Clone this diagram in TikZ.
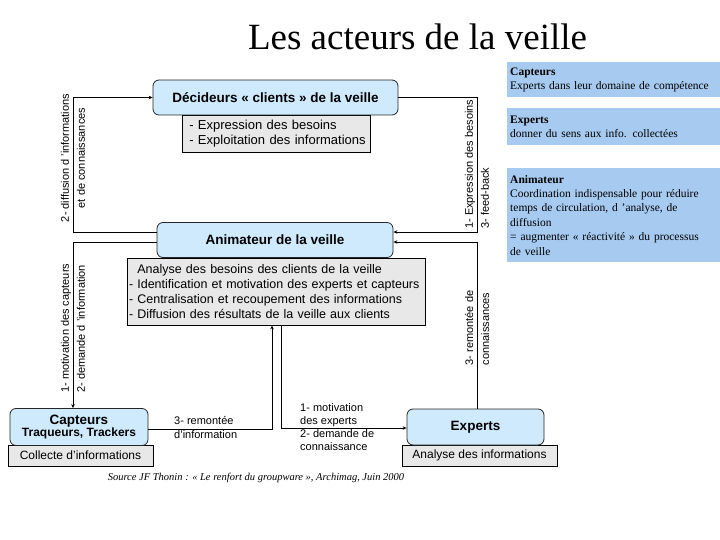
\documentclass[tikz,border=0pt]{standalone}
\usepackage{fontspec}
\setmainfont{Liberation Serif}
\setsansfont{Liberation Sans}
\usetikzlibrary{arrows.meta}
\definecolor{bleuclair}{RGB}{206,234,252}
\definecolor{grisclair}{RGB}{232,232,232}
\definecolor{bleupanneau}{RGB}{166,202,240}

\tikzset{
  acteur/.style={draw=black!85, fill=bleuclair, rounded corners=6pt, line width=0.8pt,
    font=\sffamily\bfseries\fontsize{13.5}{15}\selectfont, inner sep=2pt},
  tache/.style={draw=black, fill=grisclair, line width=0.8pt, inner sep=2pt,
    font=\sffamily\fontsize{12}{15}\selectfont},
  etiquette/.style={font=\sffamily\fontsize{11}{16}\selectfont, inner sep=0pt},
  panneau/.style={fill=bleupanneau, anchor=north west, align=left, inner sep=3pt,
    text width=207pt, font=\fontsize{11.5}{14.4}\selectfont},
  lien/.style={line width=0.8pt, -{Stealth[length=4pt,width=3.5pt]}}
}

\begin{document}
\begin{tikzpicture}[x=1pt, y=-1pt]
  \useasboundingbox (0,0) rectangle (720,540);
  % titre
  \node[anchor=base, font=\fontsize{37}{40}\selectfont] (titre) at (417.5,50) {Les acteurs de la veille};
  % panneaux de droite
  \node[panneau, minimum height=35] (pcap) at (507,62) {\textbf{Capteurs}\\Experts dans leur domaine de compétence};
  \node[panneau, minimum height=37] (pexp) at (507,108) {\textbf{Experts}\\donner du sens aux info. collectées};
  \node[panneau, minimum height=94] (panim) at (507,168) {\textbf{Animateur}\\Coordination indispensable pour réduire\\temps de circulation, d 'analyse, de\\diffusion\\= augmenter « réactivité » du processus\\de veille};
  % décideurs
  \node[tache, minimum width=188, minimum height=37, align=left, text width=182pt, font=\sffamily\fontsize{13}{15}\selectfont] (decT) at (276,133.5) {\ - Expression des besoins\\\ - Exploitation des informations};
  \node[acteur, minimum width=245, minimum height=35] (dec) at (275.5,97.5) {Décideurs « clients » de la veille};
  % animateur
  \node[tache, minimum width=298, minimum height=67, align=left, text width=294pt, font=\sffamily\fontsize{12.5}{15}\selectfont] (animT) at (276,291.5) {\hphantom{-}\ Analyse des besoins des clients de la veille\\- Identification et motivation des experts et capteurs\\- Centralisation et recoupement des informations\\- Diffusion des résultats de la veille aux clients};
  \node[acteur, minimum width=236, minimum height=35] (anim) at (275,240) {Animateur de la veille};
  % capteurs
  \node[tache, minimum width=145, minimum height=21] (capT) at (80.5,455.5) {Collecte d'informations};
  \node[acteur, minimum width=138, minimum height=37, align=center, font=\sffamily\bfseries\fontsize{13.5}{11}\selectfont] (cap) at (79,427) {Capteurs\\{\fontsize{12}{11}\selectfont Traqueurs, Trackers}};
  % experts
  \node[tache, minimum width=155, minimum height=21] (expT) at (479.5,455.5) {Analyse des informations};
  \node[acteur, minimum width=137, minimum height=36] (exp) at (475.5,427) {Experts};

  % liens de gauche
  \coordinate (g1) at (73,97.5);
  \coordinate (g2) at (73,232);
  \coordinate (g3) at (73,242);
  \draw[lien] (anim.west |- g2) -- (g2) -- (g1) -- (dec.west);
  \draw[lien] (anim.west |- g3) -- (g3) -- (g3 |- cap.north);
  % liens de droite
  \coordinate (d1) at (477,97.5);
  \coordinate (d2) at (477,232);
  \coordinate (d3) at (477,242);
  \draw[lien] (dec.east) -- (d1) -- (d2) -- (anim.east |- d2);
  \draw[lien] (d3 |- exp.north) -- (d3) -- (anim.east |- d3);
  % liens du bas
  \coordinate (b1) at (272,429);
  \coordinate (b2) at (281,428);
  \draw[lien] (cap.east |- b1) -- (b1) -- (b1 |- animT.south);
  \draw[lien] (b2 |- animT.south) -- (b2) -- (exp.west |- b2);

  % étiquettes
  \node[etiquette, rotate=90, align=center] (l1) at (73,158) {2- diffusion d 'informations\\et de connaissances};
  \node[etiquette, rotate=90, align=left, anchor=west] (l2) at (73,393) {1- motivation des capteurs\\2- demande d 'information};
  \node[etiquette, rotate=90, align=left, anchor=west] (l3) at (477,229) {1- Expression des besoins\\3- feed-back};
  \node[etiquette, rotate=90, align=left] (l4) at (477,328) {3- remontée de\\connaissances};
  \node[etiquette, align=left, anchor=north west, font=\sffamily\fontsize{11}{14}\selectfont] (l5) at (174,416) {3- remontée\\d'information};
  \node[etiquette, align=left, anchor=north west, font=\sffamily\fontsize{11}{13}\selectfont] (l6) at (300,403) {1- motivation\\des experts\\2- demande de\\connaissance};

  % source
  \node[font=\itshape\fontsize{10.5}{12}\selectfont] (source) at (256,478) {Source JF Thonin : « Le renfort du groupware », Archimag, Juin 2000};
\end{tikzpicture}
\end{document}
